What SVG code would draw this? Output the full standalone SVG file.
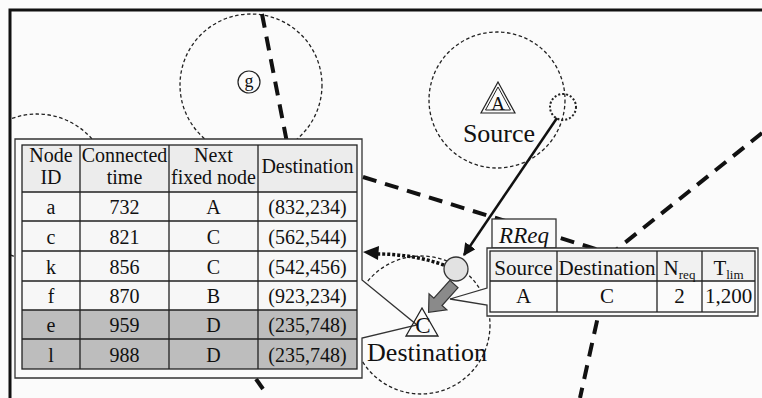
<svg xmlns="http://www.w3.org/2000/svg" width="762" height="398" viewBox="0 0 762 398">
<style>
text{font-family:"Liberation Serif","Times New Roman",serif;fill:#111}
.t{font-size:20px;text-anchor:middle}
.r{font-size:21px;text-anchor:middle}
.lbl{font-size:26px;text-anchor:middle}
.thin{fill:none;stroke:#222;stroke-width:1.3;stroke-dasharray:3.5 2.5}
.part{fill:none;stroke:#111;stroke-width:4;stroke-dasharray:14 9}
.grid{stroke:#222;stroke-width:1.3;fill:none}
.frame{fill:#fbfbfb;stroke:#333;stroke-width:1.3}
</style>
<defs>
<clipPath id="fr"><rect x="11" y="11" width="751" height="387"/></clipPath>
<marker id="ah" viewBox="0 0 10 10" refX="9" refY="5" markerWidth="5" markerHeight="5" orient="auto"><path d="M0,0 L10,5 L0,10 Z" fill="#111"/></marker>
</defs>
<rect width="762" height="398" fill="#fbfbfb"/>
<path d="M10,398 V10 H762" fill="none" stroke="#111" stroke-width="3"/>

<g id="ranges" clip-path="url(#fr)">
<circle class="thin" cx="37" cy="187" r="73"/>
<circle class="thin" cx="251" cy="85" r="71"/>
<circle class="thin" cx="497" cy="100" r="68"/>
<circle class="thin" cx="421" cy="325" r="69"/>
</g>

<g id="partitions">
<line class="part" x1="262" y1="14" x2="290" y2="158"/>
<line class="part" x1="363" y1="177" x2="612" y2="254"/>
<line class="part" x1="762" y1="133" x2="612" y2="253"/>
<line class="part" x1="612" y1="253" x2="580" y2="398"/>
<line x1="256" y1="379" x2="263" y2="389" stroke="#111" stroke-width="4"/>
</g>

<g id="node-table">
<path class="frame" d="M15,139 H362 V280 L417,325 L362,338 V378 H15 Z"/>
<rect x="22" y="145" width="335" height="47" fill="#ececec"/>
<rect x="22" y="192" width="335" height="118" fill="#f7f7f7"/>
<rect x="22" y="310" width="335" height="59" fill="#bdbdbd"/>
<rect class="grid" x="22" y="145" width="335" height="224" stroke-width="1.6"/>
<path class="grid" d="M80,145V369M169,145V369M258,145V369M22,192H357M22,221H357M22,251H357M22,281H357M22,310H357M22,339H357"/>
<text class="t" x="51" y="162">Node</text><text class="t" x="51" y="184">ID</text>
<text class="t" x="124.5" y="162">Connected</text><text class="t" x="124.5" y="184">time</text>
<text class="t" x="213.5" y="162">Next</text><text class="t" x="213.5" y="184">fixed node</text>
<text class="t" x="307.5" y="173">Destination</text>
<text class="t" x="51" y="214">a</text><text class="t" x="124.5" y="214">732</text><text class="t" x="213.5" y="214">A</text><text class="t" x="307.5" y="214">(832,234)</text>
<text class="t" x="51" y="244">c</text><text class="t" x="124.5" y="244">821</text><text class="t" x="213.5" y="244">C</text><text class="t" x="307.5" y="244">(562,544)</text>
<text class="t" x="51" y="274">k</text><text class="t" x="124.5" y="274">856</text><text class="t" x="213.5" y="274">C</text><text class="t" x="307.5" y="274">(542,456)</text>
<text class="t" x="51" y="303">f</text><text class="t" x="124.5" y="303">870</text><text class="t" x="213.5" y="303">B</text><text class="t" x="307.5" y="303">(923,234)</text>
<text class="t" x="51" y="332">e</text><text class="t" x="124.5" y="332">959</text><text class="t" x="213.5" y="332">D</text><text class="t" x="307.5" y="332">(235,748)</text>
<text class="t" x="51" y="362">l</text><text class="t" x="124.5" y="362">988</text><text class="t" x="213.5" y="362">D</text><text class="t" x="307.5" y="362">(235,748)</text>
</g>

<g id="rreq">
<rect class="frame" x="492" y="219" width="64" height="29"/>
<text x="524" y="243" font-size="23" font-style="italic" text-anchor="middle">RReq</text>
<path class="frame" d="M487,248 H758 V316 H487 V305 L450,299 L487,288 Z"/>
<rect x="490" y="251" width="265" height="30" fill="#f1f1f1"/>
<rect class="grid" x="490" y="251" width="265" height="61" stroke-width="1.6"/>
<path class="grid" d="M557,251V312M657,251V312M702,251V312M490,281H755"/>
<text class="r" x="523.5" y="275">Source</text>
<text class="r" x="607" y="275">Destination</text>
<text class="r" x="679.5" y="275">N<tspan font-size="13" dy="4">req</tspan></text>
<text class="r" x="728.5" y="275">T<tspan font-size="13" dy="4">lim</tspan></text>
<text class="r" x="523.5" y="303">A</text>
<text class="r" x="607" y="303">C</text>
<text class="r" x="679.5" y="303">2</text>
<text class="r" x="728.5" y="303">1,200</text>
</g>

<g id="node-g">
<circle cx="249" cy="82" r="11" fill="#fbfbfb" stroke="#222" stroke-width="1.2"/>
<text x="249" y="87" font-size="18" text-anchor="middle">g</text>
</g>

<g id="node-A">
<path d="M498,82 L515,113 H481 Z" fill="#fbfbfb" stroke="#222" stroke-width="1.2"/>
<path d="M498,87 L510.5,110 H485.5 Z" fill="none" stroke="#222" stroke-width="1"/>
<text x="498" y="110" font-size="19" text-anchor="middle">A</text>
<text class="lbl" x="499" y="142">Source</text>
</g>

<g id="node-moving">
<circle cx="563" cy="107" r="13" fill="none" stroke="#222" stroke-width="2" stroke-dasharray="2 2"/>
</g>

<g id="node-relay">
<circle cx="456" cy="269" r="12" fill="#e2e2e2" stroke="#333" stroke-width="1.3"/>
</g>

<g id="node-C">
<path d="M422,308 L438,336 H406 Z" fill="none" stroke="#222" stroke-width="1.3"/>
<text x="423" y="333" font-size="23" text-anchor="middle">C</text>
<text class="lbl" x="427" y="361">Destination</text>
</g>

<g id="connectors">
<line x1="557" y1="118" x2="464" y2="255" stroke="#111" stroke-width="2.5" marker-end="url(#ah)"/>
<path d="M444,265 Q412,254 378,254" fill="none" stroke="#111" stroke-width="3.5" stroke-dasharray="3 2"/>
<path d="M363,252 L379,246 L378,260 Z" fill="#111"/>
<path transform="translate(454,284) rotate(132)" d="M0,-5.5 H24 V-12 L38,0 L24,12 V5.5 H0 Z" fill="#8a8a8a" stroke="#333" stroke-width="1.2"/>
</g>
</svg>
